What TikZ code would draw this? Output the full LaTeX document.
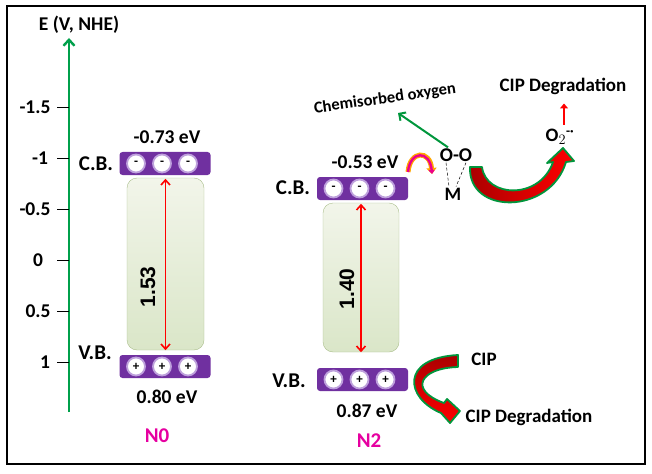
\documentclass[tikz,border=0pt]{standalone}
\usepackage{fontspec}
\setmainfont{Carlito}
\newfontfamily\arialfont{Liberation Sans}
\usetikzlibrary{arrows.meta,positioning}

\definecolor{axgreen}{RGB}{0,160,75}
\definecolor{bandpurple}{RGB}{112,48,160}
\definecolor{bandlilac}{RGB}{190,160,220}
\definecolor{boxtop}{RGB}{242,245,234}
\definecolor{boxbot}{RGB}{218,230,200}
\definecolor{boxedge}{RGB}{170,190,140}
\definecolor{samplepink}{RGB}{230,0,160}
\definecolor{fatgreen}{RGB}{0,150,60}
\definecolor{darkred}{RGB}{170,0,0}

\begin{document}
\begin{tikzpicture}[x=1pt,y=-1pt,
  lbl/.style={font=\bfseries\fontsize{19.5}{21}\selectfont, inner sep=1pt},
  biglbl/.style={font=\bfseries\fontsize{19}{21}\selectfont, inner sep=1pt},
  bandlbl/.style={font=\bfseries\fontsize{21}{23}\selectfont, inner sep=1pt},
  band/.style={fill=bandpurple, rounded corners=3pt, minimum width=91pt, minimum height=23pt, inner sep=0pt},
  hole/.style={circle, fill=white, draw=bandlilac, line width=1.8pt, minimum size=18pt, inner sep=0pt, font=\bfseries\fontsize{13}{13}\selectfont},
  gapbox/.style={draw=boxedge, rounded corners=10pt, top color=boxtop, bottom color=boxbot, minimum width=77pt, inner sep=0pt},
  gaparrow/.style={red, line width=1.6pt, {Straight Barb[length=5pt,width=9pt]}-{Straight Barb[length=5pt,width=9pt]}},
  gapval/.style={rotate=90, font=\arialfont\bfseries\fontsize{21}{21}\selectfont},
  fatarrow/.style={draw=fatgreen, line width=1.8pt, line join=round},
]
\useasboundingbox (0,0) rectangle (652,473);
\draw[line width=1.6pt] (7,6) rectangle (645,464);

% energy axis
\coordinate (AxB) at (69,412);
\coordinate (AxT) at (69,38);
\draw[axgreen, line width=2.4pt, -{Straight Barb[length=6pt,width=11pt]}] (AxB) -- (AxT);
\node[lbl] (AxL) at (79,25) {E (V, NHE)};
\foreach \v/\ty/\tx in {-1.5/107/35,-1/158/40,-0.5/209/35,0/260/38,0.5/311/38,1/362/45}{
  \draw[line width=0.8pt] (57,\ty) -- (69,\ty);
  \node[lbl] at (\tx,\ty) {\v};
}

% N0
\node[gapbox, minimum height=172pt] (G0) at (165.5,264) {};
\node[band] (CB0) at (165,163.5) {};
\node[band] (VB0) at (165,366.5) {};
\foreach \dx in {-29,-3,23}{
  \node[hole] at ([xshift=\dx pt]CB0.center) {-};
  \node[hole] at ([xshift=\dx pt]VB0.center) {+};
}
\draw[gaparrow, shorten >=1pt] (G0.south) -- (G0.north);
\node[gapval] (W0) at (148,287) {1.53};
\node[bandlbl] (CBL0) at (96,164) {C.B.};
\node[bandlbl] (VBL0) at (95,353) {V.B.};
\node[lbl] (E0c) at (167,137) {-0.73 eV};
\node[lbl] (E0v) at (167,397) {0.80 eV};
\node[bandlbl, samplepink] (N0) at (157,436) {N0};

% N2
\node[gapbox, minimum width=76pt, minimum height=149pt] (G2) at (361,277.5) {};
\node[band] (CB2) at (362.5,188.5) {};
\node[band] (VB2) at (362.5,379.5) {};
\foreach \dx in {-29,-3,23}{
  \node[hole] at ([xshift=\dx pt]CB2.center) {-};
  \node[hole] at ([xshift=\dx pt]VB2.center) {+};
}
\draw[gaparrow, shorten >=1pt] (G2.south) -- (G2.north);
\node[gapval] (W2) at (347,289) {1.40};
\node[bandlbl] (CBL2) at (293,188) {C.B.};
\node[bandlbl] (VBL2) at (289,381) {V.B.};
\node[lbl] (E2c) at (365,162) {-0.53 eV};
\node[lbl] (E2v) at (367,411) {0.87 eV};
\node[bandlbl, samplepink] (N2) at (369,441) {N2};

% oxygen on the surface
\node[lbl] (OO) at (456,155) {O-O};
\node[biglbl] (M) at (453,194) {M};
\draw[densely dashed, line width=0.5pt] ([xshift=-10pt]OO.south) -- ([xshift=-4pt]M.north);
\draw[densely dashed, line width=0.5pt] ([xshift=10pt]OO.south) -- ([xshift=3pt]M.north);
\node[lbl, rotate=8, font=\bfseries\fontsize{16.5}{16.5}\selectfont] (Chem) at (385,99) {Chemisorbed oxygen};
\coordinate (ChemTip) at (398,113);
\draw[fatgreen, line width=2pt, -{Straight Barb[length=5pt,width=10pt]}] ([xshift=-8pt]OO.north) -- (ChemTip);
\coordinate (EA) at (408,172);
\coordinate (EB) at (432,174);
\draw[orange!70!yellow, line width=5pt, -{Triangle[length=6pt,width=10pt]}] (EA) .. controls (410,150) and (430,150) .. (EB);
\draw[magenta, line width=2.4pt, -{Triangle[length=4pt,width=6pt]}] (EA) .. controls (410,150) and (430,150) .. (EB);
\node[biglbl] (O2) at (560,137) {O$_2$\textsuperscript{-·}};
\node[biglbl] (DegT) at (563,86) {CIP Degradation};
\draw[red, line width=2.6pt, -{Triangle[length=5pt,width=8pt]}, shorten <=3pt, shorten >=8pt] ([xshift=4pt]O2.north) -- ([xshift=1pt]DegT.south);
\path[fatarrow, left color=darkred, right color=red]
  (482,167) .. controls (486,198) and (540,200) .. (553,162)
  -- (547,163) -- (563,148) -- (574,161) -- (566,162)
  .. controls (550,215) and (468,215) .. (470,167) -- cycle;

% valence band side
\node[biglbl] (CIP) at (484,359) {CIP};
\node[biglbl] (DegB) at (529,417) {CIP Degradation};
\path[fatarrow, top color=darkred, bottom color=red]
  (458,355) -- (458,367) .. controls (420,368) and (408,390) .. (444,403)
  -- (447,399) -- (460,411) -- (450,423) -- (441,413)
  .. controls (405,398) and (400,358) .. (458,355) -- cycle;
\end{tikzpicture}
\end{document}
